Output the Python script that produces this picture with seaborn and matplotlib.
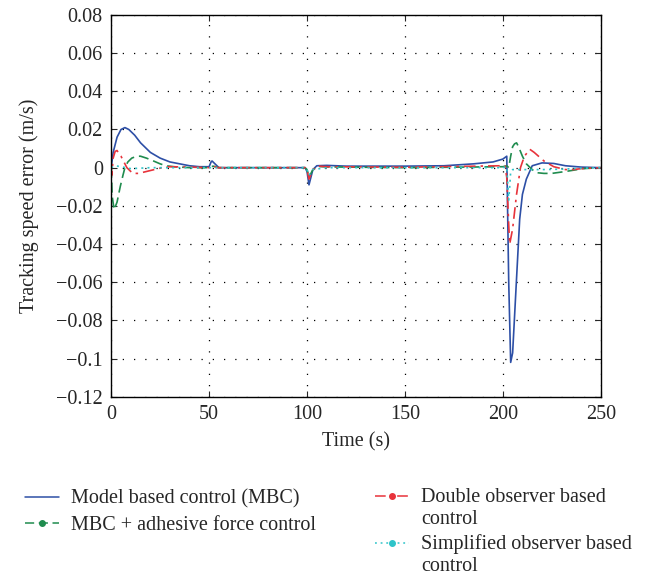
import matplotlib
matplotlib.use("Agg")
import matplotlib.pyplot as plt
from matplotlib.lines import Line2D
import numpy as np
import pandas as pd
import seaborn as sns

# values
MBC_T = [0, 1, 3, 5, 7, 9, 12, 15, 20, 25, 30, 35, 40, 45, 50, 51, 51.5, 53, 55, 60,
         99, 100, 101, 102, 103, 105, 110, 120, 150, 170, 185, 195, 200, 202, 203, 204,
         205, 207, 208.6, 210, 212, 215, 220, 226, 232, 240, 250]
MBC_V = [0, 0.008, 0.016, 0.020, 0.021, 0.020, 0.017, 0.013, 0.008, 0.005, 0.003, 0.002,
         0.001, 0.0005, 0.0005, 0.003, 0.0035, 0.002, 0, 0,
         0, -0.002, -0.009, -0.005, -0.001, 0.001, 0.0012, 0.0008, 0.0008, 0.001, 0.002,
         0.003, 0.0045, 0.006, -0.06, -0.102, -0.097, -0.058, -0.027, -0.014, -0.006,
         0.001, 0.0025, 0.0022, 0.001, 0.0003, 0]

ADH_T = [0, 0.5, 1.5, 3, 4.6, 6, 7, 8.5, 10.5, 13, 15, 18, 21.6, 25, 28, 32, 40, 50, 52,
         55, 99, 100, 101, 103, 106, 110, 150, 200, 202, 203, 204, 205, 206, 207, 208,
         210, 212, 215, 217, 221, 225, 232, 241, 250]
ADH_V = [0, -0.015, -0.022, -0.018, -0.010, -0.004, 0, 0.003, 0.005, 0.006, 0.006, 0.005,
         0.0035, 0.002, 0.001, 0.0005, 0, 0, 0.0008, 0, 0, -0.001, -0.005, -0.001, 0.0006,
         0.0004, 0, 0.0005, 0.001, 0.0, 0.006, 0.011, 0.0125, 0.013, 0.011, 0.006, 0.002,
         -0.001, -0.0026, -0.003, -0.003, -0.002, -0.0005, 0]

DOB_T = [0, 0.3, 1, 2, 3, 4, 5, 6, 8, 11, 14, 18, 22, 26, 30, 40, 50, 52, 54, 60, 99, 100,
         101, 103, 106, 110, 150, 199, 201, 202, 203, 203.5, 205, 207, 209, 211, 213.8,
         216, 221, 226, 232, 236, 240, 250]
DOB_V = [0, -0.004, 0.005, 0.0085, 0.009, 0.007, 0.006, 0.004, 0.0, -0.003, -0.003,
         -0.002, -0.001, 0, 0.0005, 0.0003, 0, 0.001, 0, 0, 0, -0.001, -0.006, -0.001,
         0.0008, 0.0005, 0.0002, 0.001, 0.001, -0.005, -0.03, -0.04, -0.032, -0.014, 0,
         0.006, 0.0096, 0.008, 0.0035, 0.0005, -0.001, -0.001, -0.0005, 0]

SOB_T = [0, 2, 5, 10, 20, 50, 99, 100, 101, 103, 110, 200, 202, 203, 203.5, 204, 205,
         210, 220, 230, 240, 250]
SOB_V = [0, 0.001, 0.0005, -0.0005, 0, 0, 0, -0.001, -0.004, -0.001, 0, 0, 0.0005,
         -0.017, -0.01, -0.002, -0.001, -0.001, -0.001, -0.0008, -0.0003, 0]

LABELS = ["Model based control (MBC)", "MBC + adhesive force control",
          "Double observer based\ncontrol", "Simplified observer based\ncontrol"]
X_TICKS = [0, 50, 100, 150, 200, 250]
Y_TICKS = [-0.12, -0.1, -0.08, -0.06, -0.04, -0.02, 0, 0.02, 0.04, 0.06, 0.08]
Y_TICK_LABELS = ["\u22120.12", "\u22120.1", "\u22120.08", "\u22120.06", "\u22120.04",
                 "\u22120.02", "0", "0.02", "0.04", "0.06", "0.08"]

COLORS = ["#2d4fa6", "#1f8c4e", "#e8333b", "#2ec4c9"]
STYLES = ["-", (0, (6, 3)), (0, (7, 3, 1.5, 3)), (0, (1.2, 2.5))]
MARKERS = [None, "o", "o", "o"]
FS = 14.5

sns.set_style("ticks")
plt.rcParams["font.family"] = ["Liberation Serif", "DejaVu Serif"]
plt.rcParams["font.size"] = FS

fig = plt.figure(figsize=(6.58, 5.75), dpi=100)
ax = fig.add_axes([0.169, 0.310, 0.744, 0.664])

series = [(MBC_T, MBC_V), (ADH_T, ADH_V), (DOB_T, DOB_V), (SOB_T, SOB_V)]
for (t, v), color, ls in zip(series, COLORS, STYLES):
    df = pd.DataFrame({"t": t, "v": v})
    sns.lineplot(data=df, x="t", y="v", ax=ax, color=color, linewidth=1.2,
                 linestyle=ls, estimator=None, sort=False)

ax.set_xlim(0, 250)
ax.set_ylim(-0.12, 0.08)
ax.set_xticks(X_TICKS)
ax.set_xticklabels([str(x) for x in X_TICKS])
ax.set_yticks(Y_TICKS)
ax.set_yticklabels(Y_TICK_LABELS)
ax.tick_params(direction="in", top=True, right=True, length=4, width=0.8, pad=6)
ax.grid(True, color="black", linestyle=(0, (1, 8)), linewidth=0.9)
for s in ax.spines.values():
    s.set_visible(True)
    s.set_color("black")
    s.set_linewidth(1.0)
ax.set_xlabel("Time (s)", labelpad=6)
ax.set_ylabel("Tracking speed error (m/s)", labelpad=12)

handles = [Line2D([], [], color=c, linestyle=ls, marker=m, markersize=4, linewidth=1.1)
           for c, ls, m in zip(COLORS, STYLES, MARKERS)]
leg_kw = dict(loc="upper left", frameon=False, handlelength=1.7, handletextpad=0.6,
              borderaxespad=0, borderpad=0)
leg_left = fig.legend(handles[:2], LABELS[:2], bbox_to_anchor=(0.038, 0.149),
                      labelspacing=0.35, **leg_kw)
leg_right = fig.legend(handles[2:], LABELS[2:], bbox_to_anchor=(0.570, 0.151),
                       labelspacing=0.25, **leg_kw)
# put the handles of the two-line entries next to their first line
for h in leg_right.legend_handles:
    h.set_ydata(np.asarray(h.get_ydata()) + 0.6 * FS)

fig.savefig("out.png", dpi=100)
